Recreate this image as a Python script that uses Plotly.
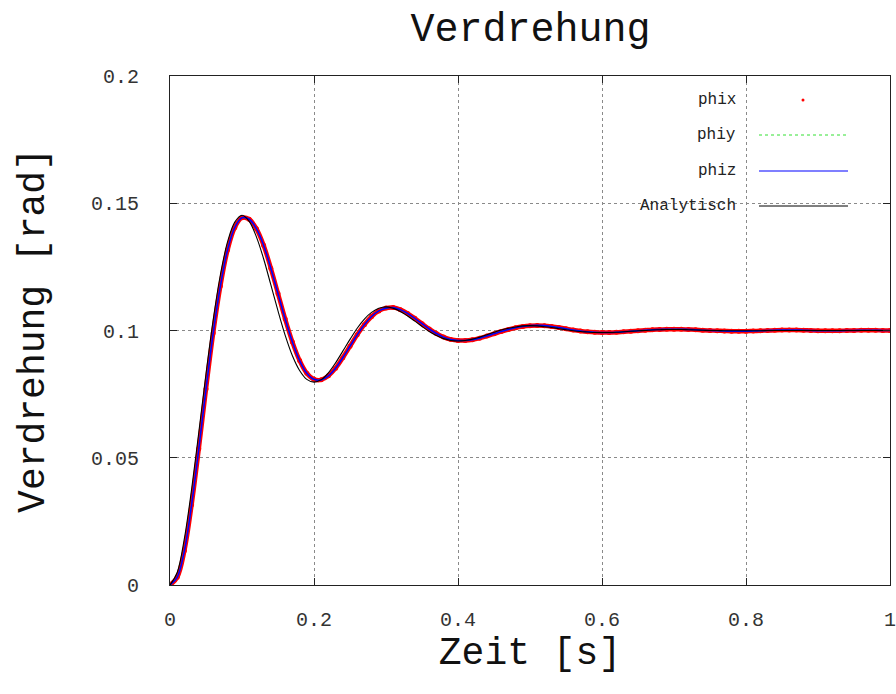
import numpy as np
import plotly.graph_objects as go

# sample times [s]
t = np.round(np.arange(0, 101) * 0.01, 2).tolist()

# simulated twist angles [rad] (phix, phiy, phiz coincide in the picture)
phix = [0.0000, 0.0030, 0.0135, 0.0315, 0.0535, 0.0770, 0.0990, 0.1175, 0.1317, 0.1405,
        0.1443, 0.1437, 0.1400, 0.1335, 0.1245, 0.1145, 0.1045, 0.0955, 0.0882, 0.0832,
        0.0808, 0.0806, 0.0822, 0.0852, 0.0893, 0.0938, 0.0983, 0.1023, 0.1055, 0.1077,
        0.1088, 0.1090, 0.1082, 0.1067, 0.1048, 0.1027, 0.1006, 0.0988, 0.0974, 0.0965,
        0.0961, 0.0961, 0.0964, 0.0970, 0.0978, 0.0987, 0.0996, 0.1004, 0.1011, 0.1016,
        0.1019, 0.1020, 0.1019, 0.1016, 0.1012, 0.1007, 0.1002, 0.0998, 0.0995, 0.0993,
        0.0992, 0.0992, 0.0993, 0.0995, 0.0997, 0.0999, 0.1001, 0.1003, 0.1004, 0.1005,
        0.1005, 0.1005, 0.1004, 0.1003, 0.1001, 0.1000, 0.0999, 0.0998, 0.0997, 0.0997,
        0.0997, 0.0998, 0.0999, 0.1000, 0.1001, 0.1002, 0.1002, 0.1002, 0.1001, 0.1000,
        0.0999, 0.0999, 0.0999, 0.0999, 0.1000, 0.1000, 0.1001, 0.1001, 0.1001, 0.1000,
        0.1000]
phiy = list(phix)
phiz = list(phix)

# analytical solution [rad]
analytisch = [0.0000, 0.0049, 0.0183, 0.0376, 0.0600, 0.0830, 0.1042, 0.1219, 0.1349, 0.1426,
              0.1453, 0.1429, 0.1368, 0.1282, 0.1180, 0.1077, 0.0981, 0.0901, 0.0843, 0.0808,
              0.0797, 0.0807, 0.0834, 0.0873, 0.0919, 0.0965, 0.1009, 0.1045, 0.1071, 0.1087,
              0.1093, 0.1087, 0.1075, 0.1057, 0.1037, 0.1016, 0.0996, 0.0980, 0.0968, 0.0961,
              0.0959, 0.0961, 0.0966, 0.0974, 0.0983, 0.0993, 0.1002, 0.1009, 0.1014, 0.1018,
              0.1019, 0.1018, 0.1015, 0.1012, 0.1007, 0.1003, 0.0999, 0.0996, 0.0994, 0.0992,
              0.0992, 0.0992, 0.0993, 0.0995, 0.0997, 0.0999, 0.1000, 0.1002, 0.1003, 0.1004,
              0.1004, 0.1004, 0.1003, 0.1002, 0.1001, 0.1000, 0.1000, 0.0999, 0.0999, 0.0999,
              0.0999, 0.0999, 0.0999, 0.1000, 0.1000, 0.1000, 0.1000, 0.1000, 0.1000, 0.1000,
              0.1000, 0.1000, 0.1000, 0.1000, 0.1000, 0.1000, 0.1000, 0.1000, 0.1000, 0.1000,
              0.1000]

series_names = ["phix", "phiy", "phiz", "Analytisch"]
x_ticks = [0, 0.2, 0.4, 0.6, 0.8, 1]
y_ticks = [0, 0.05, 0.1, 0.15, 0.2]

FONT = "Liberation Mono, DejaVu Sans Mono, monospace"
RED, GREEN, BLUE, BLACK = "#ff0000", "#33e033", "#0000ff", "#000000"

fig = go.Figure()
fig.add_trace(go.Scatter(x=t, y=phix, name=series_names[0], mode="lines+markers",
                         line=dict(color=RED, width=4.5, shape="spline"),
                         marker=dict(color=RED, size=5), showlegend=False))
fig.add_trace(go.Scatter(x=t, y=phiy, name=series_names[1], mode="lines",
                         line=dict(color=GREEN, width=1, dash="dot", shape="spline"),
                         showlegend=False))
fig.add_trace(go.Scatter(x=t, y=phiz, name=series_names[2], mode="lines",
                         line=dict(color=BLUE, width=1.6, shape="spline"),
                         showlegend=False))
fig.add_trace(go.Scatter(x=t, y=analytisch, name=series_names[3], mode="lines",
                         line=dict(color=BLACK, width=1.1, shape="spline"),
                         showlegend=False))

# the page body margin is removed (post_script), so figure coords = screen coords
FW, FH = 896, 694
PL, PR, PT, PB = 170, 890, 76, 585          # plot box on screen
L, R, T, B = PL, FW - PR, PT, FH - PB
W, H = FW - L - R, FH - T - B
px = lambda x: (x - L) / W                  # screen x -> paper
py = lambda y: (FH - B - y) / H             # screen y -> paper

# ---- gnuplot-style key (text left, sample right) ----
shapes = [dict(type="rect", xref="paper", yref="paper", layer="between",
               x0=px(524), x1=px(868), y0=py(226), y1=py(78),
               fillcolor="white", line=dict(width=0))]
annotations = []
rows = [100, 135, 171, 206]
styles = [None, dict(color=GREEN, width=1, dash="dot"), dict(color=BLUE, width=1.2),
          dict(color=BLACK, width=1)]
for name, yr, st in zip(series_names, rows, styles):
    annotations.append(dict(text=name, xref="paper", yref="paper", x=px(738), y=py(yr),
                            xanchor="right", yanchor="middle", showarrow=False,
                            font=dict(family=FONT, size=16, color="#222")))
    if st is None:
        shapes.append(dict(type="circle", xref="paper", yref="paper",
                           x0=px(801.5), x1=px(804.5), y0=py(101.5), y1=py(98.5),
                           fillcolor=RED, line=dict(width=0)))
    else:
        shapes.append(dict(type="line", xref="paper", yref="paper",
                           x0=px(759), x1=px(848), y0=py(yr), y1=py(yr), line=st))

axis_common = dict(showline=True, linecolor="#222", linewidth=1, mirror="ticks",
                   ticks="inside", ticklen=7, tickcolor="#222", tickwidth=1,
                   showgrid=True, gridcolor="#8a8a8a", griddash="dot", gridwidth=1,
                   zeroline=False, ticklabeloverflow="allow", automargin=False,
                   tickfont=dict(family=FONT, size=20, color="#333"))

fig.update_layout(
    width=FW, height=FH,
    margin=dict(l=L, r=R, t=T, b=B, autoexpand=False),
    paper_bgcolor="white", plot_bgcolor="white",
    title=dict(text="Verdrehung", x=px(530.5), xref="paper", xanchor="center",
               y=1 - 27 / FH, yanchor="middle", automargin=False,
               font=dict(family=FONT, size=40, color="#111")),
    xaxis=dict(range=[0, 1], tickvals=x_ticks, ticktext=[f"{v:g}" for v in x_ticks],
               title=dict(text="Zeit [s]", standoff=1,
                          font=dict(family=FONT, size=38, color="#111")),
               ticklabelstandoff=16, **axis_common),
    yaxis=dict(range=[0, 0.2], tickvals=y_ticks, ticktext=[f"{v:g}" for v in y_ticks],
               title=dict(text="Verdrehung [rad]", standoff=34,
                          font=dict(family=FONT, size=38, color="#111")),
               ticklabelstandoff=26, **axis_common),
    shapes=shapes, annotations=annotations, showlegend=False,
)

fig.write_html(
    "out.html",
    config={"displayModeBar": False},
    post_script="document.body.style.margin='0';"
                "document.documentElement.style.overflow='hidden';",
)
